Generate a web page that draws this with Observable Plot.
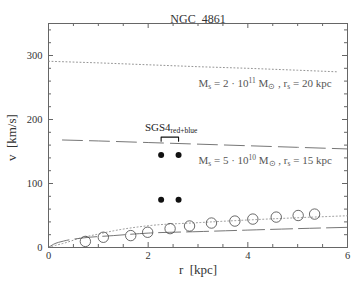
<!DOCTYPE html>
<html><head><meta charset="utf-8">
<script src="https://cdn.jsdelivr.net/npm/d3@7"></script>
<script src="https://cdn.jsdelivr.net/npm/@observablehq/plot@0.6"></script>
<style>body{margin:0;background:#fff}</style>
</head><body><div id="chart"></div>
<script>
// ---- text ----
const title = "NGC\u00a0\u00a04861";
const xLabel = "r\u00a0\u00a0[kpc]";
const yLabel = "v\u00a0\u00a0[km/s]";
const annoHigh = "M_{s} = 2 · 10^{11} M_{⊙} , r_{s} = 20 kpc";
const annoLow = "M_{s} = 5 · 10^{10} M_{⊙} , r_{s} = 15 kpc";
const sgsLabel = "SGS4_{red+blue}";

// ---- ticks ----
const xTicks = [0, 2, 4, 6];
const xMinorTicks = [0.5, 1, 1.5, 2.5, 3, 3.5, 4.5, 5, 5.5];
const yTicks = [0, 100, 200, 300];
const yMinorTicks = [20, 40, 60, 80, 120, 140, 160, 180, 220, 240, 260, 280, 320, 340];

// ---- observed rotation curve (open circles) ----
const obsR = [0.74, 1.10, 1.65, 1.99, 2.44, 2.83, 3.27, 3.74, 4.10, 4.57, 5.01, 5.34];
const obsV = [9.5, 16, 18.6, 23.8, 29.5, 33.6, 38.2, 41.3, 44.4, 47.5, 50, 52.2];

// ---- SGS4 red+blue (filled dots) ----
const sgsR = [2.26, 2.61, 2.26, 2.61];
const sgsV = [144.5, 144.5, 74.5, 74.5];

// ---- bracket over SGS4 ----
const bracketR = [2.26, 2.26, 2.61, 2.61];
const bracketV = [166, 172.5, 172.5, 166];

// ---- model curves ----
const haloHighR = [0, 1, 2, 3, 4, 5, 5.8];
const haloHighV = [291, 288.5, 285.5, 282.5, 280, 277, 274.5];
const haloLowR = [0.28, 1, 2, 3, 4, 5, 6];
const haloLowV = [168, 166.5, 164, 161.5, 159, 156.5, 154];
const fitDotR = [0, 0.15, 0.3, 0.65, 1, 1.3, 2, 3, 4, 5, 6];
const fitDotV = [0, 3.5, 6.5, 15, 21, 26, 34, 38.8, 43, 46.5, 49.6];
const fitDashR = [0, 0.1, 0.3, 0.7, 1.3, 2, 3, 4, 5, 6];
const fitDashV = [0, 5, 10, 15, 18.6, 22.5, 24.8, 27.2, 29.5, 31.5];

// ---- annotation positions ----
const annoR = [3.01, 3.01];
const annoV = [257, 136];
const sgsLabelR = 2.46, sgsLabelV = 187;
const yLabelV = 135; // data-space centre of the rotated axis label

const zip = (rs, vs) => rs.map((r, i) => ({r, v: vs[i]}));
const W = 357, H = 287, mL = 48, mR = 10, mT = 23, mB = 40;
const plotH = H - mT - mB, plotW = W - mL - mR;
const majorLen = 5, minorLen = 3;
const frameColor = "#666", ink = "#333";

const chart = Plot.plot({
  width: W, height: H,
  marginLeft: mL, marginRight: mR, marginTop: mT, marginBottom: mB,
  style: {fontFamily: "Liberation Serif", fontSize: "10px", color: ink, background: "#fff"},
  x: {domain: [0, 6]},
  y: {domain: [0, 350]},
  marks: [
    Plot.frame({stroke: frameColor}),
    // tick labels
    Plot.axisX(xTicks, {tickSize: 0, tickPadding: 4, label: null, fontSize: 10.5}),
    Plot.axisY(yTicks, {tickSize: 0, tickPadding: 6, label: null, fontSize: 10.5}),
    // inward ticks, four sides
    Plot.tickX(xTicks, {insetTop: plotH - majorLen, stroke: frameColor}),
    Plot.tickX(xTicks, {insetBottom: plotH - majorLen, stroke: frameColor}),
    Plot.tickX(xMinorTicks, {insetTop: plotH - minorLen, stroke: frameColor}),
    Plot.tickX(xMinorTicks, {insetBottom: plotH - minorLen, stroke: frameColor}),
    Plot.tickY(yTicks, {insetRight: plotW - majorLen, stroke: frameColor}),
    Plot.tickY(yTicks, {insetLeft: plotW - majorLen, stroke: frameColor}),
    Plot.tickY(yMinorTicks, {insetRight: plotW - minorLen, stroke: frameColor}),
    Plot.tickY(yMinorTicks, {insetLeft: plotW - minorLen, stroke: frameColor}),
    // model curves
    Plot.line(zip(haloHighR, haloHighV), {x: "r", y: "v", stroke: "#888", strokeWidth: 0.9, strokeDasharray: "1,2.5"}),
    Plot.line(zip(haloLowR, haloLowV), {x: "r", y: "v", stroke: "#666", strokeWidth: 0.9, strokeDasharray: "20,7"}),
    Plot.line(zip(fitDotR, fitDotV), {x: "r", y: "v", curve: "monotone-x", stroke: "#888", strokeWidth: 0.9, strokeDasharray: "1,2.5"}),
    Plot.line(zip(fitDashR, fitDashV), {x: "r", y: "v", curve: "monotone-x", stroke: "#666", strokeWidth: 0.9, strokeDasharray: "22,6"}),
    // data
    Plot.dot(zip(obsR, obsV), {x: "r", y: "v", r: 5.2, stroke: "#444", fill: "none", strokeWidth: 0.8}),
    Plot.dot(zip(sgsR, sgsV), {x: "r", y: "v", r: 3, fill: "#111", stroke: "none"}),
    Plot.line(zip(bracketR, bracketV), {x: "r", y: "v", stroke: "#111", strokeWidth: 1.1}),
    // annotations
    Plot.text([annoHigh, annoLow], {x: (d, i) => annoR[i], y: (d, i) => annoV[i], text: d => d, textAnchor: "start", fill: "#555", fontSize: 11}),
    Plot.text([sgsLabel], {x: () => sgsLabelR, y: () => sgsLabelV, text: d => d, textAnchor: "middle", fill: "#222", fontSize: 11}),
    // titles
    Plot.text([title], {frameAnchor: "top", dy: -9, text: d => d, fontSize: 12, fill: ink}),
    Plot.text([xLabel], {frameAnchor: "bottom", dy: 26, text: d => d, fontSize: 13, fill: ink}),
    Plot.text([yLabel], {y: () => yLabelV, frameAnchor: "left", dx: -37, rotate: -90, text: d => d, fontSize: 13, fill: ink})
  ]
});

// rich text: _{sub} and ^{sup}
const NS = "http://www.w3.org/2000/svg";
chart.querySelectorAll("text").forEach(t => {
  const s = t.textContent;
  if (!/[_^]\{/.test(s)) return;
  t.textContent = "";
  const re = /([_^])\{([^}]*)\}/g;
  let last = 0, m, shift = 0;
  const add = (str, kind) => {
    if (!str) return;
    const sp = document.createElementNS(NS, "tspan");
    sp.textContent = str;
    const target = kind === "_" ? 2 : kind === "^" ? -4 : 0;
    if (target !== shift) sp.setAttribute("dy", String(target - shift));
    shift = target;
    if (kind) sp.setAttribute("font-size", "7.5");
    t.appendChild(sp);
  };
  while ((m = re.exec(s))) {
    add(s.slice(last, m.index), null);
    add(m[2], m[1]);
    last = re.lastIndex;
  }
  add(s.slice(last), null);
});

document.getElementById("chart").appendChild(chart);
</script>
</body></html>
